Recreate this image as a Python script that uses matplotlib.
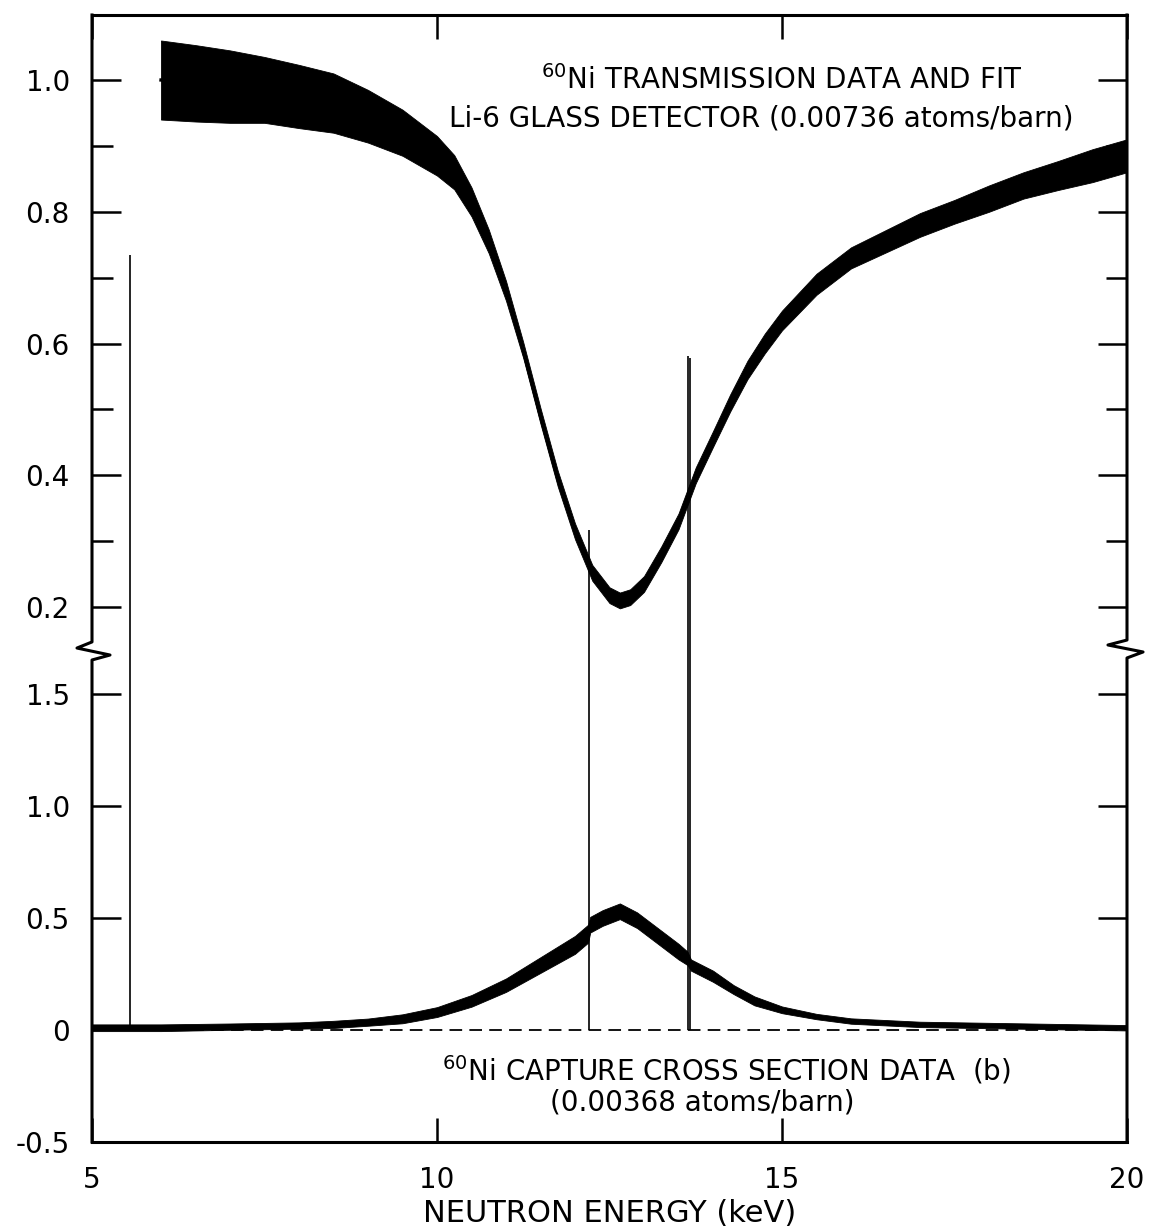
import numpy as np
import matplotlib
matplotlib.use("Agg")
import matplotlib.pyplot as plt

plt.rcParams['font.family'] = ['DejaVu Sans']

# Transmission data (upper scale): energy (keV), mean value, half-width of the scatter band
trans_e = [6.0, 6.5, 7.0, 7.5, 8.0, 8.5, 9.0, 9.5, 10.0, 10.25, 10.5, 10.75, 11.0, 11.25,
           11.5, 11.75, 12.0, 12.25, 12.5, 12.65, 12.8, 13.0, 13.25, 13.5, 13.75, 14.0,
           14.25, 14.5, 14.75, 15.0, 15.5, 16.0, 16.5, 17.0, 17.5, 18.0, 18.5, 19.0, 19.5, 20.0]
trans_t = [1.0, 0.995, 0.99, 0.985, 0.975, 0.965, 0.945, 0.92, 0.885, 0.86, 0.815, 0.755, 0.68, 0.59,
           0.49, 0.395, 0.315, 0.252, 0.218, 0.21, 0.215, 0.235, 0.28, 0.33, 0.40, 0.455,
           0.51, 0.56, 0.60, 0.635, 0.69, 0.73, 0.755, 0.78, 0.80, 0.82, 0.84, 0.855, 0.87, 0.885]
trans_hw = [0.06, 0.058, 0.055, 0.05, 0.048, 0.045, 0.04, 0.035, 0.03, 0.026, 0.022, 0.018, 0.015, 0.012,
            0.012, 0.012, 0.012, 0.012, 0.012, 0.012, 0.012, 0.012, 0.012, 0.012, 0.012, 0.012,
            0.013, 0.014, 0.015, 0.015, 0.016, 0.016, 0.017, 0.018, 0.018, 0.02, 0.02, 0.022, 0.025, 0.025]

# Capture cross section data (lower scale, barns)
capt_e = [5.0, 5.5, 6.0, 7.0, 8.0, 8.5, 9.0, 9.5, 10.0, 10.5, 11.0, 11.5, 12.0, 12.19,
          12.22, 12.4, 12.65, 12.9, 13.2, 13.5, 13.63, 13.68, 14.0, 14.3, 14.6, 15.0,
          15.5, 16.0, 17.0, 18.0, 19.0, 20.0]
capt_s = [0.01, 0.01, 0.01, 0.015, 0.02, 0.025, 0.035, 0.05, 0.08, 0.13, 0.2, 0.29, 0.38, 0.43,
          0.47, 0.5, 0.53, 0.49, 0.42, 0.35, 0.32, 0.29, 0.24, 0.18, 0.13, 0.09,
          0.06, 0.04, 0.025, 0.02, 0.015, 0.01]
capt_hw = [0.015, 0.015, 0.015, 0.014, 0.014, 0.016, 0.016, 0.02, 0.022, 0.026, 0.03, 0.035, 0.04, 0.04,
           0.035, 0.035, 0.035, 0.035, 0.035, 0.035, 0.03, 0.025, 0.025, 0.02, 0.02, 0.015,
           0.012, 0.012, 0.012, 0.012, 0.012, 0.012]

# off-scale spikes in the capture data
spike_e = [5.55, 12.2, 13.64, 13.66]
spike_top = [3.46, 2.23, 3.01, 3.0]

W, H = 1150, 1230
fig = plt.figure(figsize=(W / 100, H / 100), dpi=100)
pos = [92 / W, 1 - 1142 / H, (1127 - 92) / W, (1142 - 15) / H]

# lower (capture) axes spans the whole frame, upper (transmission) axes is overlaid
ax = fig.add_axes(pos)
ax.set_xlim(5, 20)
ax.set_ylim(-0.5, 4.531)
ax2 = fig.add_axes(pos, sharex=ax)
ax2.patch.set_visible(False)
ax2.set_ylim(-0.612, 1.0987)
for s in ax2.spines.values():
    s.set_visible(False)

# transmission data band and fit
ax2.fill_between(trans_e, np.array(trans_t) - np.array(trans_hw), np.array(trans_t) + np.array(trans_hw),
                 color='black', lw=0.6)
ax2.plot(trans_e, trans_t, color='black', lw=2.4)

# capture data
ax.fill_between(capt_e, np.array(capt_s) - np.array(capt_hw), np.array(capt_s) + np.array(capt_hw),
                color='black', lw=0.6)
ax.plot(capt_e, capt_s, color='black', lw=1.0)
ax.vlines(spike_e, 0.0, spike_top, color='black', lw=1.2)
ax.axhline(0, color='black', lw=1.3, ls=(0, (7, 4)))

# frame: top/bottom spines as usual, left/right drawn by hand with the break mark
for side in ['left', 'right']:
    ax.spines[side].set_visible(False)
for side in ['top', 'bottom']:
    ax.spines[side].set_linewidth(2.2)
left_x = [0, 0, -0.0145, 0.0174, 0, 0]
left_y = [1, 0.4437, 0.4383, 0.4321, 0.4277, 0]
right_x = [1, 1, 0.9816, 1.0155, 1, 1]
right_y = [1, 0.4454, 0.441, 0.4348, 0.4295, 0]
ax.plot(left_x, left_y, transform=ax.transAxes, color='black', lw=2.2, clip_on=False,
        solid_joinstyle='round')
ax.plot(right_x, right_y, transform=ax.transAxes, color='black', lw=2.2, clip_on=False,
        solid_joinstyle='round')

# ticks
ax.set_xticks([5, 10, 15, 20])
ax.set_xticklabels(['5', '10', '15', '20'])
ax.tick_params(axis='x', direction='in', length=17, width=1.8, top=True, pad=17, labelsize=20)

ax.set_yticks([-0.5, 0, 0.5, 1.0, 1.5])
ax.set_yticklabels(['-0.5', '0', '0.5', '1.0', '1.5'])
ax.tick_params(axis='y', direction='in', length=21, width=1.8, left=True, right=True,
               pad=16, labelsize=20)
for t in ax.yaxis.get_major_ticks()[:2]:
    t.tick1line.set_visible(False)
    t.tick2line.set_visible(False)

ax2.set_yticks([0.2, 0.4, 0.6, 0.8, 1.0])
ax2.set_yticklabels(['0.2', '0.4', '0.6', '0.8', '1.0'])
ax2.set_yticks([0.3, 0.5, 0.7, 0.9], minor=True)
ax2.tick_params(axis='y', which='major', direction='in', length=21, width=1.8,
                left=True, right=True, pad=16, labelsize=20)
ax2.tick_params(axis='y', which='minor', direction='in', length=15, width=1.8,
                left=True, right=True)
ax2.tick_params(axis='x', which='both', bottom=False, top=False, labelbottom=False)

ax.set_xlabel('NEUTRON ENERGY (keV)', fontsize=22, labelpad=4)

# annotations
ax2.text(15.0, 1.0, r'$^{60}$Ni TRANSMISSION DATA AND FIT', ha='center', va='center', fontsize=20)
ax2.text(14.7, 0.942, 'Li-6 GLASS DETECTOR (0.00736 atoms/barn)', ha='center', va='center', fontsize=20)
ax.text(14.2, -0.18, r'$^{60}$Ni CAPTURE CROSS SECTION DATA  (b)', ha='center', va='center', fontsize=20)
ax.text(13.85, -0.325, '(0.00368 atoms/barn)', ha='center', va='center', fontsize=20)

fig.savefig('out.png', dpi=100)
